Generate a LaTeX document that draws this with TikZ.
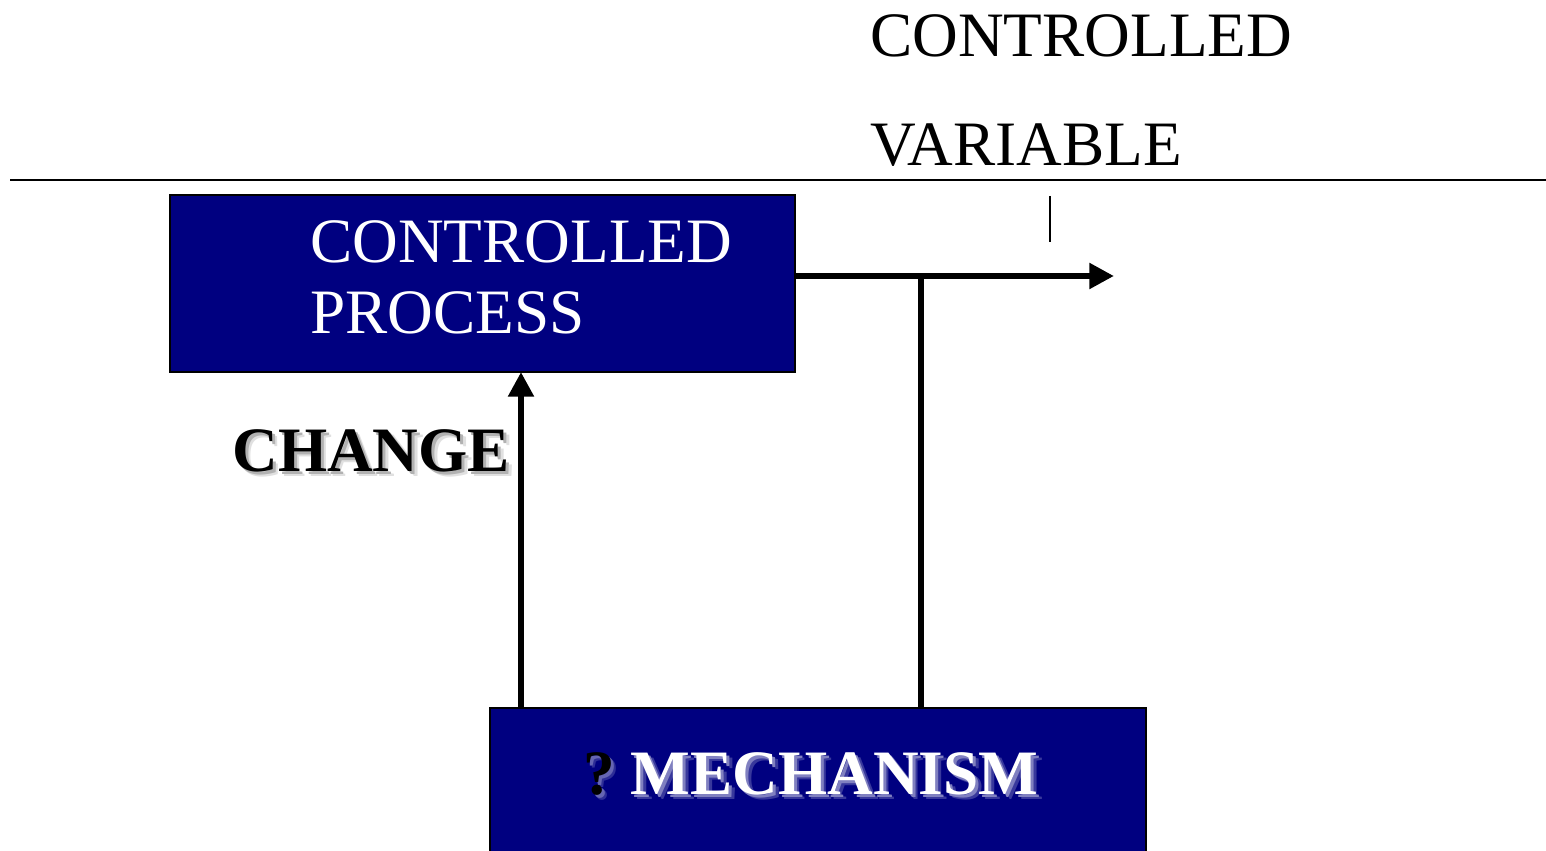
\documentclass[tikz,border=0pt]{standalone}
\usepackage{fontspec}
\setmainfont{Liberation Serif}
\usetikzlibrary{arrows.meta}
\definecolor{boxnavy}{RGB}{0,0,128}
% text with a soft drop shadow: {far shade}{near shade}{text}
\newcommand{\softshade}[3]{%
  \makebox[0pt][l]{\hspace{0.11cm}\raisebox{-0.11cm}{\textcolor{#1}{#3}}}%
  \makebox[0pt][l]{\hspace{0.06cm}\raisebox{-0.06cm}{\textcolor{#2}{#3}}}%
  #3}
\tikzset{
  blockbox/.style={draw=black, line width=1.2pt, fill=boxnavy},
  bigtext/.style={font=\fontsize{36}{40}\selectfont, inner sep=0pt, anchor=base west},
  boldtext/.style={bigtext, font=\fontsize{36}{40}\selectfont\bfseries},
  flow/.style={line width=3.6pt},
  flowarrow/.style={flow, -{Triangle[length=14pt,width=14pt]}},
}
\begin{document}
\begin{tikzpicture}[x=0.02cm, y=-0.02cm]
  \useasboundingbox (0,0) rectangle (1546,851);
  \fill[white] (0,0) rectangle (1546,851);

  % output label and rule
  \node[bigtext] (cvtop) at (870,57) {CONTROLLED};
  \node[bigtext] (cvbot) at (870,166) {VARIABLE};
  \coordinate (ruleL) at (10,180);
  \coordinate (ruleR) at (1546,180);
  \draw[line width=1.3pt] (ruleL) -- (ruleR);
  \coordinate (tickT) at (1050,196);
  \coordinate (tickB) at (1050,242);
  \draw[line width=1pt] (tickT) -- (tickB);

  % controlled process block
  \draw[blockbox] (170,195) rectangle (795,372);
  \node[bigtext, text=white] (cp1) at (310,263) {CONTROLLED};
  \node[bigtext, text=white] (cp2) at (310,334) {PROCESS};

  % mechanism block
  \draw[blockbox] (490,708) rectangle (1146,870);
  \node[boldtext] (mech) at (583,794)
    {\softshade{white!18!boxnavy}{white!40!boxnavy}{?}\ %
     \textcolor{white}{\softshade{white!22!boxnavy}{white!50!boxnavy}{MECHANISM}}};

  % change label
  \node[boldtext] (chg) at (232,471) {\softshade{black!12}{black!30}{CHANGE}};

  % signal paths
  \coordinate (outL) at (795,276);
  \coordinate (outR) at (1114,276);
  \coordinate (tap) at (921,276);
  \coordinate (tapB) at (921,708);
  \coordinate (actB) at (521,708);
  \coordinate (actT) at (521,372);
  \draw[flowarrow] (outL) -- (outR);
  \draw[flow] (tap) -- (tapB);
  \draw[flowarrow] (actB) -- (actT);
\end{tikzpicture}
\end{document}
